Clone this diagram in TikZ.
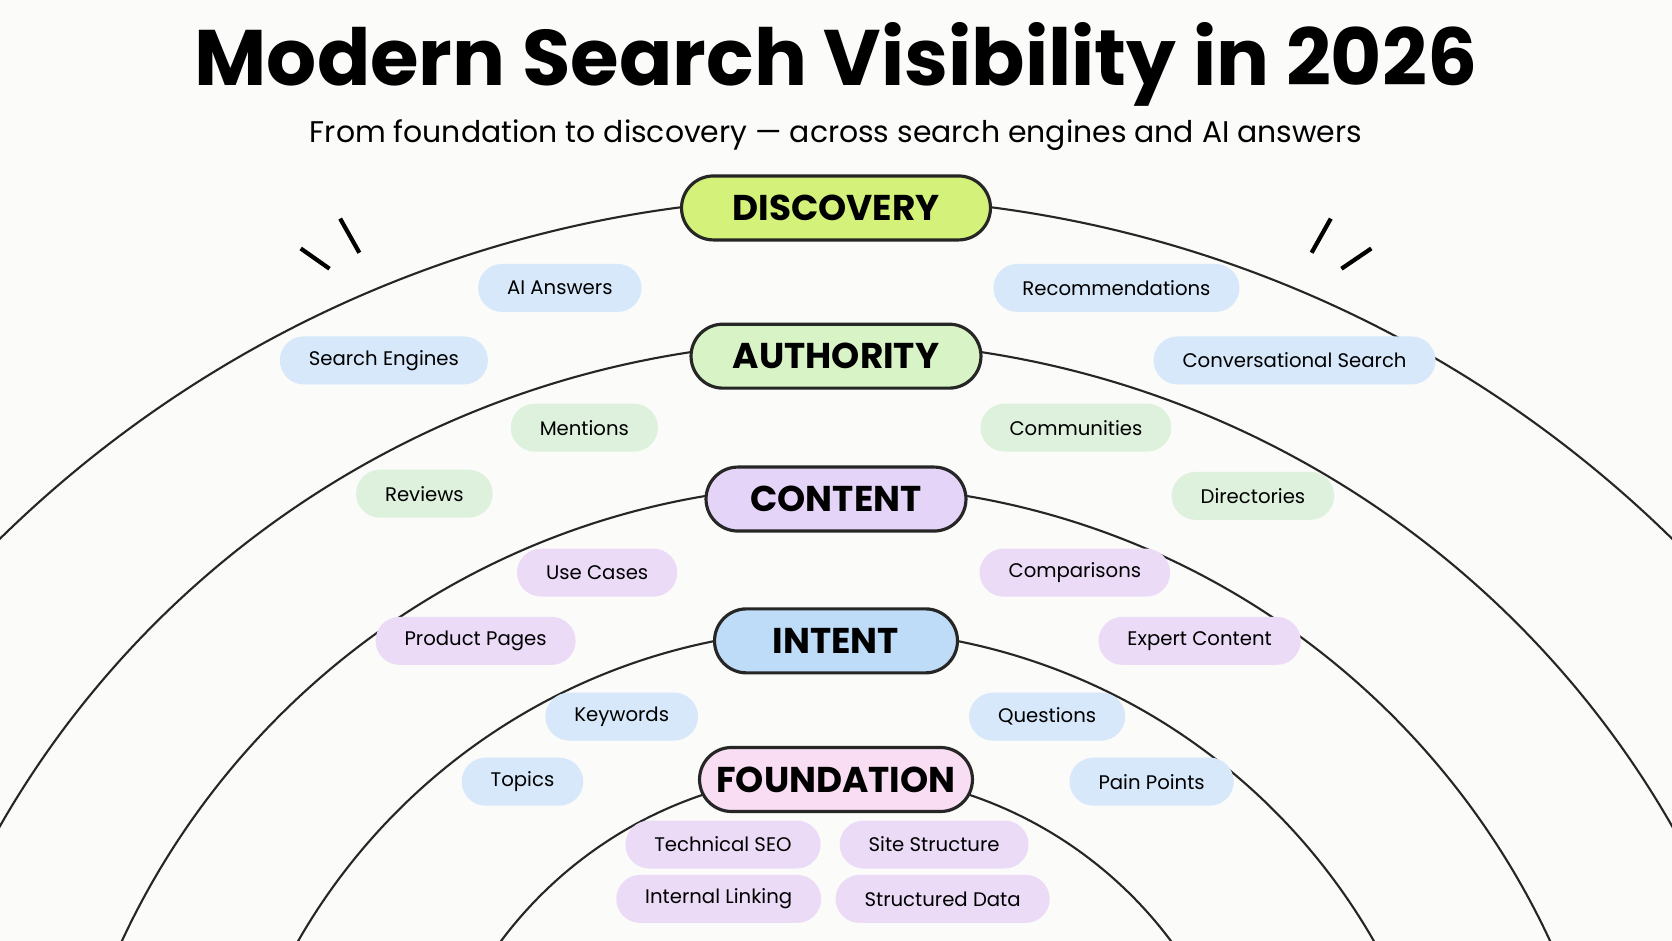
\documentclass[tikz,border=0pt]{standalone}
\usepackage{fontspec}
\setmainfont{Poppins}
\usepackage{tikz}
\usetikzlibrary{positioning}
\definecolor{bgcol}{HTML}{FBFBF9}
\definecolor{discfill}{HTML}{D4F27A}
\definecolor{authfill}{HTML}{D8F3C6}
\definecolor{contfill}{HTML}{E4D4F8}
\definecolor{intfill}{HTML}{BEDCF8}
\definecolor{foundfill}{HTML}{F8DDF3}
\definecolor{tagblue}{HTML}{D6E8FA}
\definecolor{taggreen}{HTML}{DDF1DD}
\definecolor{tagpurple}{HTML}{EBDBF7}
\tikzset{
  layer/.style={draw=black!85, line width=0.9pt, rounded corners=3.2mm,
    minimum height=0.64cm, font=\fontsize{10.2}{12}\selectfont\bfseries},
  tag/.style={rounded corners=2.4mm, minimum height=0.48cm, inner xsep=0.29cm,
    font=\fontsize{5.6}{7}\selectfont},
  ring/.style={line width=0.6pt, black!85}
}
\begin{document}
\begin{tikzpicture}[x=0.010663cm, y=-0.010663cm]
\fill[bgcol] (0,0) rectangle (1568,882);
\useasboundingbox (0,0) rectangle (1568,882);
% Rings
\begin{scope}
\clip (0,0) rectangle (1568,882);
\draw[ring] (784,1305) circle (1120);
\draw[ring] (784,1223) circle (903);
\draw[ring] (784,1193) circle (738);
\draw[ring] (784,1171) circle (581);
\draw[ring] (784,1117) circle (392);
\end{scope}
% Title
\node (title) at (784,60) {\fontsize{22.4}{25}\selectfont\bfseries Modern Search Visibility in 2026};
\node (subtitle) at (784,127) {\fontsize{8.5}{10}\selectfont From foundation to discovery — across search engines and AI answers};
% Sparks
\draw[line width=1.2pt] (282,233) -- (309,252);
\draw[line width=1.2pt] (319,205) -- (337,237);
\draw[line width=1.2pt] (1230,237) -- (1248,205);
\draw[line width=1.2pt] (1258,252) -- (1286,233);
% Layers
\node[layer, fill=discfill, minimum width=3.09cm] (discovery) at (784,195) {DISCOVERY};
\node[layer, fill=authfill, minimum width=2.9cm] (authority) at (784,334) {AUTHORITY};
\node[layer, fill=contfill, minimum width=2.6cm] (content) at (784,468) {CONTENT};
\node[layer, fill=intfill, minimum width=2.43cm] (intent) at (784,601) {INTENT};
\node[layer, fill=foundfill, minimum width=2.73cm] (foundation) at (784,731) {FOUNDATION};
% Discovery tags
\node[tag, fill=tagblue] (aianswers) at (525,270) {AI Answers};
\node[tag, fill=tagblue] (recommend) at (1047,270) {Recommendations};
\node[tag, fill=tagblue] (engines) at (360,338) {Search Engines};
\node[tag, fill=tagblue] (conversational) at (1214,338) {Conversational Search};
% Authority tags
\node[tag, fill=taggreen] (mentions) at (548,401) {Mentions};
\node[tag, fill=taggreen] (communities) at (1009,401) {Communities};
\node[tag, fill=taggreen] (reviews) at (398,463) {Reviews};
\node[tag, fill=taggreen] (directories) at (1175,465) {Directories};
% Content tags
\node[tag, fill=tagpurple] (usecases) at (560,537) {Use Cases};
\node[tag, fill=tagpurple] (comparisons) at (1008,537) {Comparisons};
\node[tag, fill=tagpurple] (productpages) at (446,601) {Product Pages};
\node[tag, fill=tagpurple] (expert) at (1125,601) {Expert Content};
% Intent tags
\node[tag, fill=tagblue] (keywords) at (583,672) {Keywords};
\node[tag, fill=tagblue] (questions) at (982,672) {Questions};
\node[tag, fill=tagblue] (topics) at (490,733) {Topics};
\node[tag, fill=tagblue] (painpoints) at (1080,733) {Pain Points};
% Foundation tags
\node[tag, fill=tagpurple] (technical) at (678,792) {Technical SEO};
\node[tag, fill=tagpurple] (structure) at (876,792) {Site Structure};
\node[tag, fill=tagpurple] (linking) at (674,843) {Internal Linking};
\node[tag, fill=tagpurple] (structured) at (884,843) {Structured Data};
\end{tikzpicture}
\end{document}
